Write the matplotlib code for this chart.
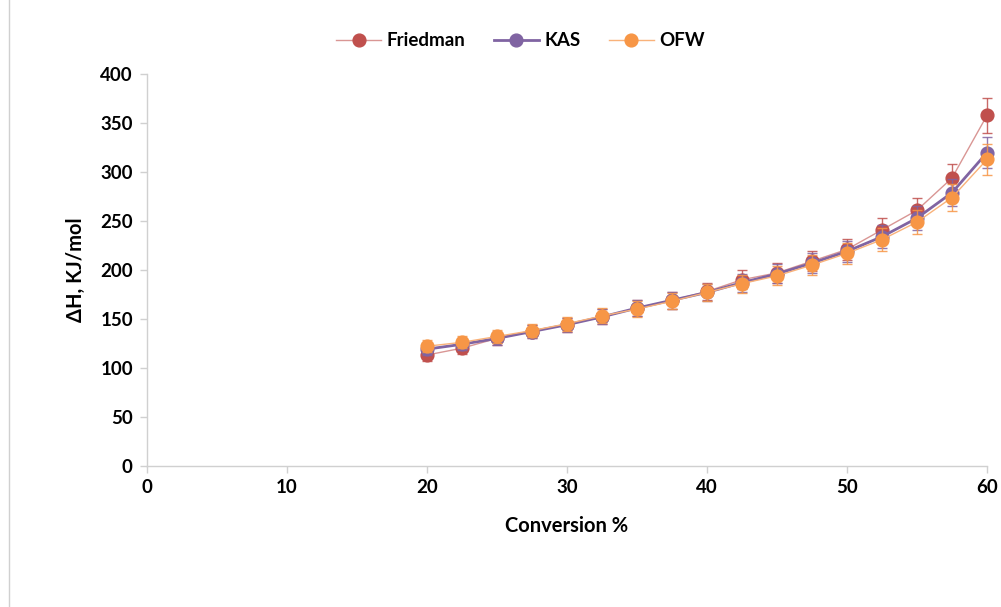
import matplotlib.pyplot as plt
from matplotlib.lines import Line2D
import numpy as np

plt.rcParams['font.family'] = ['Lato', 'DejaVu Sans']
plt.rcParams['font.weight'] = 'bold'

# conversion levels (%) and activation enthalpy for each method
conversion = [20, 22.5, 25, 27.5, 30, 32.5, 35, 37.5, 40, 42.5, 45, 47.5, 50, 52.5, 55, 57.5, 60]
friedman = [113, 120, 130, 137, 144, 152, 161, 169, 178, 190, 197, 209, 221, 241, 261, 294, 358]
kas = [119, 124, 130, 137, 144, 152, 161, 169, 177, 187, 196, 207, 219, 234, 253, 279, 320]
ofw = [122, 126, 132, 138, 145, 153, 160, 168, 177, 186, 194, 205, 217, 231, 249, 274, 313]
err_frac = 0.05

series = [
    ('Friedman', friedman, '#C0504D', '#D99694', 1.0),
    ('KAS', kas, '#8064A2', '#8064A2', 2.0),
    ('OFW', ofw, '#F79646', '#F9B27A', 1.0),
]

fig = plt.figure(figsize=(10.01, 6.07), dpi=100)
ax = fig.add_axes([0.1466, 0.233, 0.8394, 0.6445])

for name, vals, col, lcol, lw in series:
    vals = np.array(vals)
    eb = ax.errorbar(conversion, vals, yerr=vals * err_frac, fmt='none',
                     ecolor=col, elinewidth=1.0, capsize=3.6, capthick=1.0, alpha=0.85)
    for art in eb.lines[1] + eb.lines[2]:
        art.set_clip_on(False)
    ax.plot(conversion, vals, color=lcol, lw=lw, marker='o', markersize=9.2,
            markerfacecolor=col, markeredgecolor=col, clip_on=False)

ax.set_xlim(0, 60)
ax.set_ylim(0, 400)
ax.set_xticks(np.arange(0, 61, 10))
ax.set_yticks(np.arange(0, 401, 50))
for s in ['top', 'right']:
    ax.spines[s].set_visible(False)
for s in ['left', 'bottom']:
    ax.spines[s].set_color('#D0D0D0')
    ax.spines[s].set_linewidth(1.0)
ax.tick_params(axis='both', direction='out', length=5, width=1.0, color='#D0D0D0',
               labelsize=13.5, pad=5)
for lab in ax.get_xticklabels() + ax.get_yticklabels():
    lab.set_fontweight('bold')

ax.set_xlabel('Conversion %', fontsize=14.5, fontweight='bold', labelpad=14)
ax.set_ylabel('ΔH, KJ/mol', fontsize=14.5, fontweight='bold', labelpad=10)

handles = [Line2D([0], [0], color=lcol, lw=lw, marker='o', markersize=9.2,
                  markerfacecolor=col, markeredgecolor=col)
           for _, _, col, lcol, lw in series]
fig.legend(handles, [s[0] for s in series], loc='center', bbox_to_anchor=(0.52, 0.933),
           ncol=3, frameon=False, handlelength=2.4, columnspacing=1.5, handletextpad=0.3,
           prop={'weight': 'bold', 'size': 13.5})

# thin border along the left edge of the chart area
fig.add_artist(Line2D([0.0085, 0.0085], [0, 1], transform=fig.transFigure,
                      color='#D0D0D0', lw=1.0))

fig.savefig('out.png', dpi=100)
